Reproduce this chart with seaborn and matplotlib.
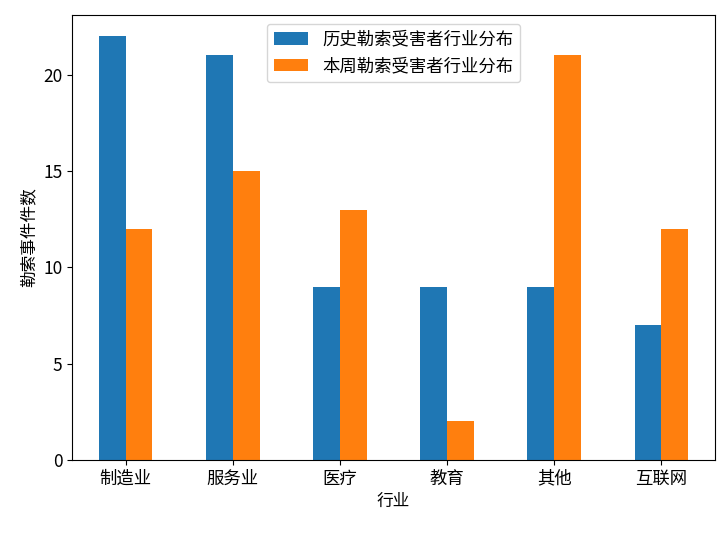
import pandas as pd
import matplotlib
matplotlib.use("Agg")
import matplotlib.pyplot as plt
import seaborn as sns

industries = ["制造业", "服务业", "医疗", "教育", "其他", "互联网"]
history_counts = [22, 21, 9, 9, 9, 7]
week_counts = [12, 15, 13, 2, 21, 12]
series_names = ["历史勒索受害者行业分布", "本周勒索受害者行业分布"]

plt.rcParams['font.family'] = ['Noto Sans CJK SC', 'DejaVu Sans']
plt.rcParams['axes.unicode_minus'] = False

df = pd.DataFrame({
    "行业": industries * 2,
    "count": history_counts + week_counts,
    "series": [series_names[0]] * len(industries) + [series_names[1]] * len(industries),
})

fig, ax = plt.subplots(figsize=(7.2, 5.33), dpi=100)
sns.barplot(data=df, x="行业", y="count", hue="series", ax=ax,
            palette=["#1f77b4", "#ff7f0e"], width=0.5, saturation=1)

ax.set_xlim(-0.5, len(industries) - 0.5)
ax.set_xlabel("行业", fontsize=12)
ax.set_ylabel("勒索事件件数", fontsize=12)
ax.tick_params(labelsize=12.5)
ax.legend(loc="upper center", fontsize=12.5)

fig.subplots_adjust(left=0.1, right=0.993, top=0.972, bottom=0.137)
plt.savefig("out.png")
plt.close()
